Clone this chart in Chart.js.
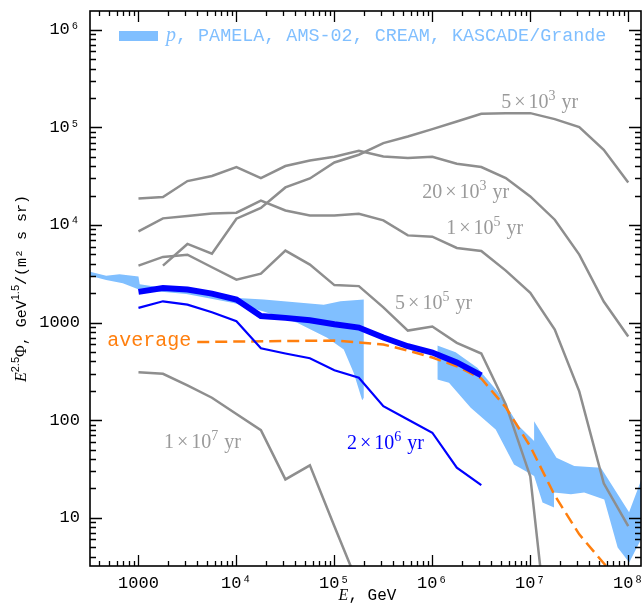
<!DOCTYPE html>
<html><head><meta charset="utf-8">
<script src="https://cdn.jsdelivr.net/npm/chart.js@4/dist/chart.umd.min.js"></script>
<style>html,body{margin:0;padding:0;background:#fff}</style>
</head><body>
<canvas id="c" width="642" height="613"></canvas>
<script>
// ---------- data ----------
const energies = [1e3, 1.778e3, 3.162e3, 5.623e3, 1e4, 1.778e4, 3.162e4, 5.623e4, 1e5, 1.778e5,
  3.162e5, 5.623e5, 1e6, 1.778e6, 3.162e6, 5.623e6, 1e7, 1.778e7, 3.162e7, 5.623e7, 1e8];
const age5e3 = [null, 3831, 6393, 5082, 11600, 14930, 24260, 29990, 43740, 52480, 69050, 80720,
  96150, 114900, 137800, 139400, 140100, 121600, 100700, 59070, 27300];
const age2e4 = [18710, 19350, 28200, 31750, 39260, 30290, 40180, 45810, 50020, 57540, 50370, 48530,
  50020, 42390, 39260, 30290, 19630, 11330, 4966, 1641, 719];
const age1e5 = [8600, 11690, 12360, 13140, 13360, 17740, 14100, 12530, 12530, 13050, 11140, 7825,
  7590, 5816, 5418, 3405, 2014, 848, 197, 22.5, 8.2];
const age5e5 = [3831, 4705, 4966, 3690, 2754, 3174, 5458, 3924, 2420, 2364, 1431, 828, 910, 620,
  482, 145, 26.5, 0.14];
const age1e7 = [310, 298.5, 226.5, 169.6, 115.7, 79.0, 24.7, 34.4, 8.17, 1.99];
const age2e6 = [1414, 1652, 1528, 1275, 1031, 546, 482, 431, 325, 272, 139, 101.6, 74.3, 32.6, 21.6];
const totalModel = [2062, 2254, 2177, 1982, 1719, 1166, 1117, 1056, 961, 889, 702, 572, 493, 390, 287];

const avgEnergies = [3981, 1e4, 3.162e4, 1e5, 3.162e5, 5.623e5, 1e6, 1.778e6, 3.162e6, 5.623e6,
  1e7, 1.778e7, 3.162e7, 5.623e7, 1e8];
const avgValues = [631, 639, 647, 654, 596, 517, 438, 357, 267, 135, 53.8, 16.9, 6.76, 3.41, 1.77];

// measured proton band (PAMELA, AMS-02, CREAM, KASCADE/Grande), three pieces
const band1UpE = [316, 468, 640, 1000, 1030, 1920, 3076, 9354, 18970, 77970, 115300, 200000];
const band1UpV = [3327, 3027, 3120, 2958, 2466, 2244, 2075, 1791, 1719, 1527, 1652, 1719];
const band1LoE = [316, 468, 692, 1024, 3076, 9354, 18970, 41690, 84330, 124700, 157700, 192300, 200000];
const band1LoV = [3027, 2736, 2523, 2163, 1968, 1591, 1296, 993, 697, 529, 305, 160, 170];
const band2UpE = [1.125e6, 1.73e6, 2.88e6, 4.62e6, 6.32e6, 7.68e6, 1.094e7, 1.75e7];
const band2UpV = [582, 497, 344, 198, 119, 86.8, 61, 39.6];
const band2LoE = [1.125e6, 1.479e6, 2.466e6, 4.436e6, 6.82e6, 1.094e7, 1.333e7, 1.75e7];
const band2LoV = [261, 241, 134, 80.4, 35.2, 26.7, 14.3, 12.7];
const band3UpE = [1.094e7, 1.85e7, 2.81e7, 5.26e7, 1.02e8, 1.41e8];
const band3UpV = [97.7, 41.2, 33.8, 32.6, 11.4, 27];
const band3LoE = [1.094e7, 1.75e7, 2.6e7, 3.55e7, 5.69e7, 7.8e7, 1.023e8, 1.247e8, 1.41e8];
const band3LoV = [27.2, 18.1, 17.4, 18.1, 15.4, 4.94, 3.47, 5.13, 6.5];

const xTickValues = [1e3, 1e4, 1e5, 1e6, 1e7, 1e8];
const xTickLabels = ['1000', '10⁴', '10⁵', '10⁶', '10⁷', '10⁸'];
const yTickValues = [10, 100, 1000, 1e4, 1e5, 1e6];
const yTickLabels = ['10', '100', '1000', '10⁴', '10⁵', '10⁶'];

// curve labels: anchor in data coordinates (label centre)
const curveLabels = [
  {m: '5', e: '3', x: 1.25e7, y: 1.87e5, c: '#9a9a9a'},
  {m: '20', e: '3', x: 2.19e6, y: 2.24e4, c: '#9a9a9a'},
  {m: '1', e: '5', x: 3.43e6, y: 9.6e3, c: '#9a9a9a'},
  {m: '5', e: '5', x: 1.03e6, y: 1.62e3, c: '#9a9a9a'},
  {m: '1', e: '7', x: 4.5e3, y: 60.5, c: '#9a9a9a'},
  {m: '2', e: '6', x: 3.32e5, y: 59.2, c: '#0000ff'}
];
const avgLabel = {text: 'average', x: 1.29e3, y: 640};

// ---------- styles ----------
const GRAY = '#8e8e8e', BLUE = '#0000ff', ORANGE = '#ff7f0e', BAND = '#80bfff';
const pts = (xs, ys) => xs.map((x, i) => ({x, y: ys[i]})).filter(p => p.y != null);
const curve = (vals, color, w, extra) => Object.assign({
  data: pts(energies, vals), borderColor: color, borderWidth: w, fill: false, pointRadius: 0, order: 1
}, extra || {});
const bandPair = (ue, uv, le, lv) => [
  {data: pts(ue, uv), borderWidth: 0, borderColor: 'rgba(0,0,0,0)', backgroundColor: BAND, fill: '+1', pointRadius: 0, order: 5},
  {data: pts(le, lv), borderWidth: 0, borderColor: 'rgba(0,0,0,0)', backgroundColor: BAND, fill: false, pointRadius: 0, order: 5}
];

const datasets = [
  curve(totalModel, BLUE, 6, {borderCapStyle: 'butt', order: 0}),
  curve(age2e6, BLUE, 2.2, {order: 0}),
  {data: pts(avgEnergies, avgValues), borderColor: ORANGE, borderWidth: 2.5, borderDash: [12, 6], fill: false, pointRadius: 0, order: 0},
  curve(age5e3, GRAY, 2.5),
  curve(age2e4, GRAY, 2.5),
  curve(age1e5, GRAY, 2.5),
  curve(age5e5, GRAY, 2.5),
  curve(age1e7, GRAY, 2.5),
  ...bandPair(band1UpE, band1UpV, band1LoE, band1LoV),
  ...bandPair(band2UpE, band2UpV, band2LoE, band2LoV),
  ...bandPair(band3UpE, band3UpV, band3LoE, band3LoV)
];

// ---------- rich text helper ----------
function rich(ctx, parts, x, y, align, rot) {
  let w = 0;
  for (const p of parts) {
    if (p.t) { ctx.font = p.f; p.w = ctx.measureText(p.t).width; } else { p.w = p.gap; }
    w += p.w;
  }
  ctx.save();
  ctx.translate(x, y);
  if (rot) ctx.rotate(rot);
  let cx = align === 'center' ? -w / 2 : (align === 'right' ? -w : 0);
  ctx.textAlign = 'left';
  ctx.textBaseline = 'alphabetic';
  for (const p of parts) {
    if (p.t) { ctx.font = p.f; ctx.fillStyle = p.c; ctx.fillText(p.t, cx, p.dy || 0); }
    cx += p.w;
  }
  ctx.restore();
}

const SERIF = '"Liberation Serif", "DejaVu Serif", serif';
const MONO = '"Liberation Mono", "DejaVu Sans Mono", monospace';

const decor = {
  id: 'decor',
  afterDraw(chart) {
    const {ctx, chartArea: a, scales: {x, y}} = chart;
    ctx.save();
    ctx.strokeStyle = '#000';
    ctx.lineWidth = 1.3;
    ctx.beginPath();
    for (let d = 2; d <= 8; d++) {
      for (let m = 1; m <= 9; m++) {
        const v = m * Math.pow(10, d);
        if (v < x.min || v > x.max) continue;
        const px = Math.round(x.getPixelForValue(v)) + 0.5;
        const L = m === 1 ? 11 : 5;
        ctx.moveTo(px, a.bottom); ctx.lineTo(px, a.bottom - L);
        ctx.moveTo(px, a.top); ctx.lineTo(px, a.top + L);
      }
    }
    for (let d = 0; d <= 6; d++) {
      for (let m = 1; m <= 9; m++) {
        const v = m * Math.pow(10, d);
        if (v < y.min || v > y.max) continue;
        const py = Math.round(y.getPixelForValue(v)) + 0.5;
        const L = m === 1 ? 12 : 6;
        ctx.moveTo(a.left, py); ctx.lineTo(a.left + L, py);
        ctx.moveTo(a.right, py); ctx.lineTo(a.right - L, py);
      }
    }
    ctx.stroke();
    ctx.lineWidth = 1.6;
    ctx.strokeRect(a.left, a.top, a.right - a.left, a.bottom - a.top);

    // legend
    ctx.fillStyle = BAND;
    ctx.fillRect(a.left + 29, a.top + 20, 39, 10);
    rich(ctx, [
      {t: 'p', f: 'italic 20px ' + SERIF, c: BAND},
      {t: ', PAMELA, AMS-02, CREAM, KASCADE/Grande', f: '18.4px ' + MONO, c: BAND}
    ], a.left + 76, a.top + 30, 'left');

    // curve labels
    for (const L of curveLabels) {
      const F = '20px ' + SERIF, S = '14px ' + SERIF;
      rich(ctx, [
        {t: L.m, f: F, c: L.c}, {gap: 3}, {t: '×', f: F, c: L.c}, {gap: 3},
        {t: '10', f: F, c: L.c}, {t: L.e, f: S, c: L.c, dy: -8}, {gap: 6}, {t: 'yr', f: F, c: L.c}
      ], x.getPixelForValue(L.x), y.getPixelForValue(L.y) + 7, 'center');
    }
    rich(ctx, [{t: avgLabel.text, f: '20px ' + MONO, c: ORANGE}],
      x.getPixelForValue(avgLabel.x), y.getPixelForValue(avgLabel.y) + 5, 'center');

    // axis titles
    rich(ctx, [
      {t: 'E', f: 'italic 16px ' + SERIF, c: '#000'},
      {t: ', GeV', f: '16px ' + MONO, c: '#000'}
    ], (a.left + a.right) / 2 + 2, 600, 'center');
    rich(ctx, [
      {t: 'E', f: 'italic 16px ' + SERIF, c: '#000'},
      {t: '2.5', f: '11px "Liberation Sans", sans-serif', c: '#000', dy: -7},
      {t: 'Φ', f: '16px ' + SERIF, c: '#000'},
      {t: ', GeV', f: '15px ' + MONO, c: '#000'},
      {t: '1.5', f: '11px "Liberation Sans", sans-serif', c: '#000', dy: -7},
      {t: '/(m² s sr)', f: '15px ' + MONO, c: '#000'}
    ], 26, (a.top + a.bottom) / 2, 'center', -Math.PI / 2);
    ctx.restore();
  }
};

new Chart(document.getElementById('c'), {
  type: 'line',
  data: {datasets},
  options: {
    responsive: false,
    animation: false,
    devicePixelRatio: 1,
    layout: {padding: {top: 11, right: 1, left: 0, bottom: 0}},
    elements: {line: {tension: 0}, point: {radius: 0}},
    plugins: {
      legend: {display: false},
      tooltip: {enabled: false},
      filler: {drawTime: 'beforeDatasetsDraw', propagate: false}
    },
    scales: {
      x: {
        type: 'logarithmic', position: 'bottom', min: 320, max: 1.35e8,
        grid: {display: false, drawTicks: false}, border: {display: false},
        afterBuildTicks: s => { s.ticks = xTickValues.map(v => ({value: v})); },
        afterFit: s => { s.height = 47; s.paddingLeft = 0; s.paddingRight = 0; s.paddingTop = 0; s.paddingBottom = 0; },
        ticks: {
          autoSkip: false, maxRotation: 0, padding: 7, color: '#000',
          font: {family: 'Liberation Mono', size: 17},
          callback: v => { const i = xTickValues.indexOf(v); return i >= 0 ? xTickLabels[i] : ''; }
        }
      },
      y: {
        type: 'logarithmic', position: 'left', min: 3.2, max: 1.56e6,
        grid: {display: false, drawTicks: false}, border: {display: false},
        afterBuildTicks: s => { s.ticks = yTickValues.map(v => ({value: v})); },
        afterFit: s => { s.width = 90; s.paddingLeft = 0; s.paddingRight = 0; s.paddingTop = 0; s.paddingBottom = 0; },
        ticks: {
          autoSkip: false, padding: 10, color: '#000',
          font: {family: 'Liberation Mono', size: 17},
          callback: v => { const i = yTickValues.indexOf(v); return i >= 0 ? yTickLabels[i] : ''; }
        }
      }
    }
  },
  plugins: [decor]
});
</script>
</body></html>
